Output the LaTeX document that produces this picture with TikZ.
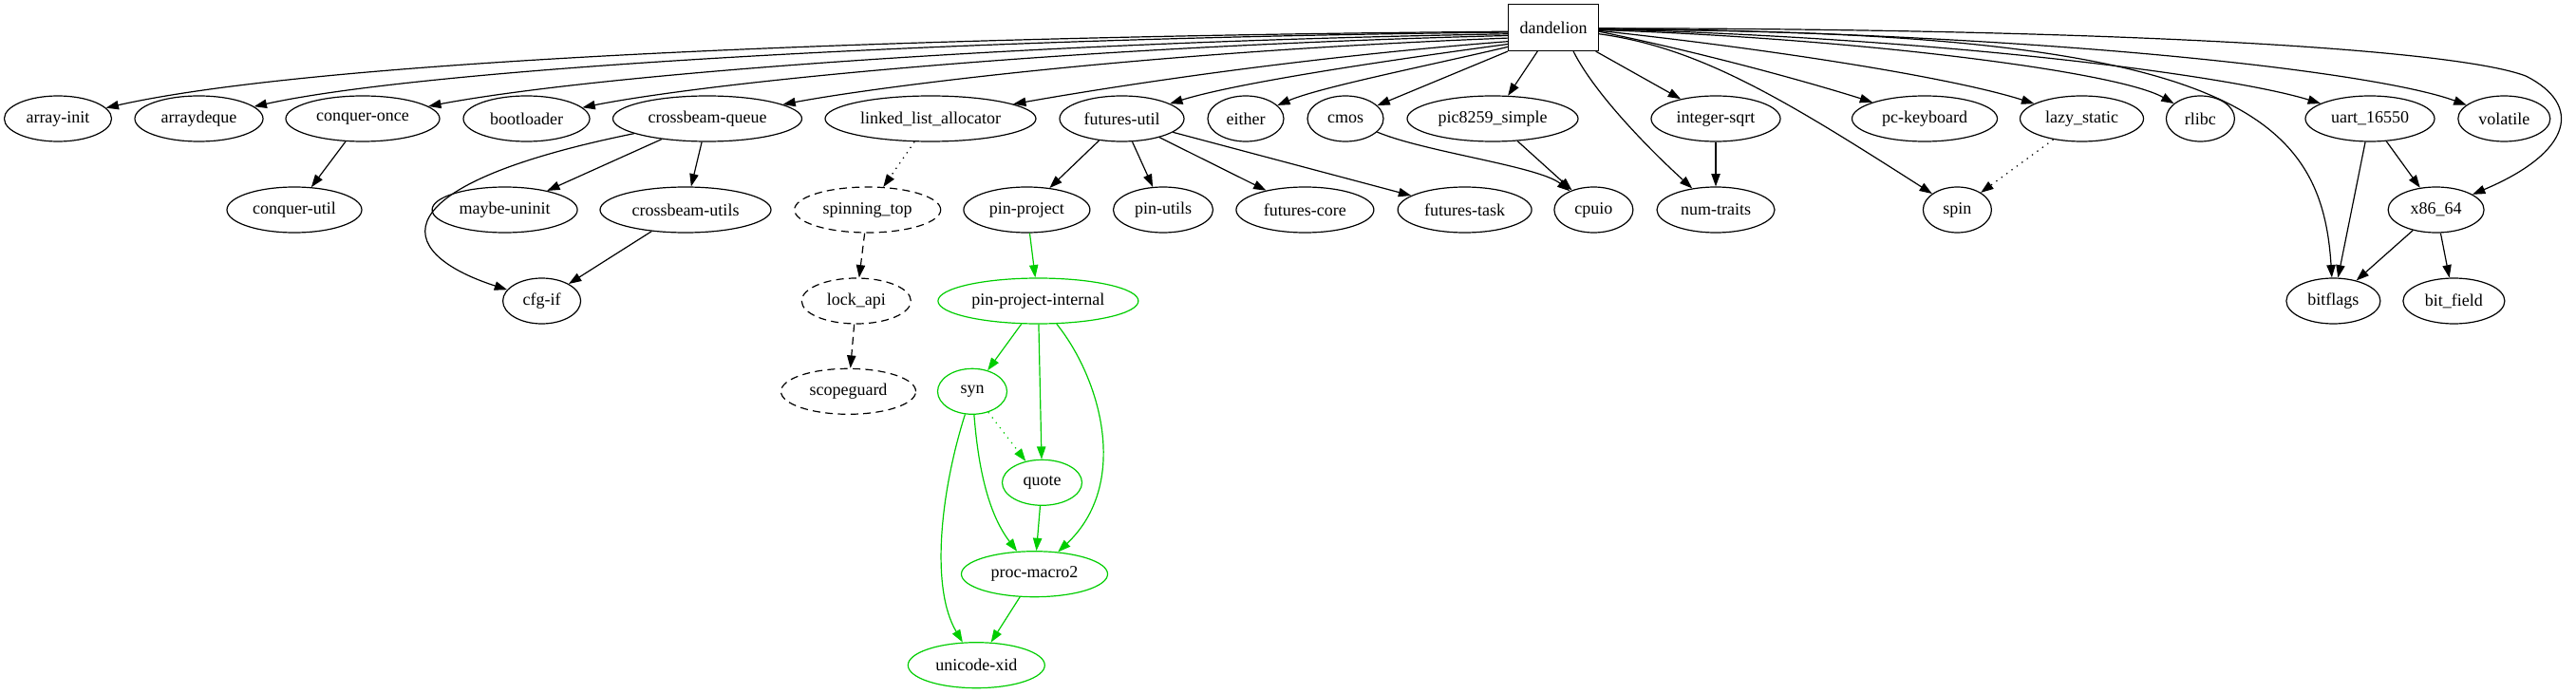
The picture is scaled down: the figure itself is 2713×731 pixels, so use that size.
\documentclass[tikz,border=0pt]{standalone}
\usepackage{fontspec}
\setmainfont{Liberation Serif}
\usetikzlibrary{arrows.meta,shapes.geometric}
\definecolor{gvgreen}{RGB}{0,205,0}
\begin{document}
\begin{tikzpicture}[x=0.75pt,y=-0.75pt,
  nd/.style={ellipse,draw,inner sep=0pt,minimum height=36pt,line width=0.9pt,font=\fontsize{13.5}{16}\selectfont},
  ew/.style={minimum width=#1*0.75pt},
  gn/.style={nd,draw=gvgreen},
  dn/.style={nd,dash pattern=on 6pt off 4pt},
  e/.style={line width=0.9pt,-{Triangle[length=10pt,width=7pt]}},
  ge/.style={e,color=gvgreen},
  dot/.style={dash pattern=on 1pt off 4pt},
  dsh/.style={dash pattern=on 6pt off 4pt}]
\useasboundingbox (0,0) rectangle (2713,731);
% dandelion
\node[draw,rectangle,minimum width=71.25pt,minimum height=36.75pt,inner sep=0pt,line width=0.9pt,font=\fontsize{13.5}{16}\selectfont] (d) at (1636,29) {dandelion};
% row 1
\node[nd,ew=113] (ai) at (61,125) {array-init};
\node[nd,ew=135] (ad) at (209.5,125) {arraydeque};
\node[nd,ew=162] (co) at (382,125) {conquer-once};
\node[nd,ew=133] (bl) at (554.5,125) {bootloader};
\node[nd,ew=199] (cq) at (745,125) {crossbeam-queue};
\node[nd,ew=222] (ll) at (980,125) {linked\_list\_allocator};
\node[nd,ew=131] (fu) at (1181.5,125) {futures-util};
\node[nd,ew=80] (ei) at (1312,125) {either};
\node[nd,ew=80] (cm) at (1417,125) {cmos};
\node[nd,ew=180] (pic) at (1572,125) {pic8259\_simple};
\node[nd,ew=136] (is) at (1807,125) {integer-sqrt};
\node[nd,ew=153] (pk) at (2027,125) {pc-keyboard};
\node[nd,ew=130] (ls) at (2192.5,125) {lazy\_static};
\node[nd,ew=72] (rl) at (2317.4,125) {rlibc};
\node[nd,ew=136] (ua) at (2496,125) {uart\_16550};
\node[nd,ew=97] (vo) at (2637.3,125) {volatile};
% row 2
\node[nd,ew=142] (cu) at (310,221) {conquer-util};
\node[nd,ew=153] (mu) at (531.6,221) {maybe-uninit};
\node[nd,ew=180] (cbu) at (722,221) {crossbeam-utils};
\node[dn,ew=154] (st) at (913.7,221) {spinning\_top};
\node[nd,ew=133] (pp) at (1081.4,221) {pin-project};
\node[nd,ew=105] (pu) at (1225,221) {pin-utils};
\node[nd,ew=145] (fc) at (1374.4,221) {futures-core};
\node[nd,ew=141] (ft) at (1542.6,221) {futures-task};
\node[nd,ew=83] (cp) at (1678.4,221) {cpuio};
\node[nd,ew=124] (nt) at (1807,221) {num-traits};
\node[nd,ew=72] (sp) at (2061.4,221) {spin};
\node[nd,ew=101] (x86) at (2565.6,221) {x86\_64};
% row 3
\node[nd,ew=82] (cf) at (570.6,317) {cfg-if};
\node[dn,ew=115] (la) at (901.8,317) {lock\_api};
\node[gn,ew=211] (ppi) at (1093.4,317) {pin-project-internal};
\node[nd,ew=99] (bf) at (2457.4,317) {bitflags};
\node[nd,ew=107] (bfd) at (2584.4,317) {bit\_field};
% lower rows
\node[dn,ew=142] (sg) at (893.5,412.3) {scopeguard};
\node[gn,ew=73] (syn) at (1024,412.3) {syn};
\node[gn,ew=84] (quote) at (1097.5,508.3) {quote};
\node[gn,ew=154] (pm) at (1089.5,604.7) {proc-macro2};
\node[gn,ew=144] (ux) at (1028.3,700.7) {unicode-xid};
% edges from dandelion
\draw[e] (d.185) .. controls (1000,38) and (350,60) .. (ai);
\draw[e] (d.186) .. controls (1000,40) and (450,72) .. (ad);
\draw[e] (d.188) .. controls (1050,45) and (620,80) .. (co);
\draw[e] (d.190) .. controls (1100,50) and (740,88) .. (bl);
\draw[e] (d.193) .. controls (1200,55) and (920,92) .. (cq);
\draw[e] (d.197) .. controls (1350,62) and (1150,95) .. (ll);
\draw[e] (d.200) .. controls (1450,65) and (1300,88) .. (fu);
\draw[e] (d.203) .. controls (1500,70) and (1390,92) .. (ei);
\draw[e] (d.south west) -- (cm);
\draw[e] (d) -- (pic);
\draw[e] (d.-50) .. controls (1680,100) and (1740,160) .. (nt);
\draw[e] (d) -- (is);
\draw[e] (d.-5) .. controls (1790,55) and (1900,85) .. (pk);
\draw[e] (d.-4) .. controls (1850,50) and (2050,80) .. (ls);
\draw[e] (d.-8) .. controls (1790,50) and (1880,105) .. (sp);
\draw[e] (d.-3) .. controls (1950,40) and (2230,75) .. (rl);
\draw[e] (d.-3) .. controls (2350,30) and (2445,120) .. (bf);
\draw[e] (d.-2) .. controls (2050,40) and (2350,80) .. (ua);
\draw[e] (d.-1) .. controls (2150,35) and (2500,75) .. (vo);
\draw[e] (d.-1) .. controls (2200,30) and (2580,50) .. (2660,80) .. controls (2720,110) and (2710,160) .. (x86);
% other edges
\draw[e] (co) -- (cu);
\draw[e] (cq) -- (mu);
\draw[e] (cq) -- (cbu);
\draw[e] (cq) .. controls (400,195) and (410,265) .. (cf);
\draw[e] (cbu) -- (cf);
\draw[e,dot] (ll) -- (st);
\draw[e,dsh] (st) -- (la);
\draw[e,dsh] (la) -- (sg);
\draw[e] (fu) -- (pp);
\draw[e] (fu) -- (pu);
\draw[e] (fu) -- (fc);
\draw[e] (fu) -- (ft);
\draw[e] (cm) .. controls (1500,160) and (1620,175) .. (cp);
\draw[e] (pic) -- (cp);
\draw[e] (is) -- (nt);
\draw[e,dot] (ls) -- (sp);
\draw[e] (ua) -- (bf);
\draw[e] (ua) -- (x86);
\draw[e] (x86) -- (bf);
\draw[e] (x86) -- (bfd);
% green edges
\draw[ge] (pp) -- (ppi);
\draw[ge] (ppi) -- (syn);
\draw[ge] (ppi) -- (quote);
\draw[ge] (ppi) .. controls (1160,400) and (1190,510) .. (pm);
\draw[ge,dot] (syn) -- (quote);
\draw[ge] (syn) .. controls (1030,490) and (1040,540) .. (pm);
\draw[ge] (syn) .. controls (990,520) and (980,620) .. (ux);
\draw[ge] (quote) -- (pm);
\draw[ge] (pm) -- (ux);
\end{tikzpicture}
\end{document}
